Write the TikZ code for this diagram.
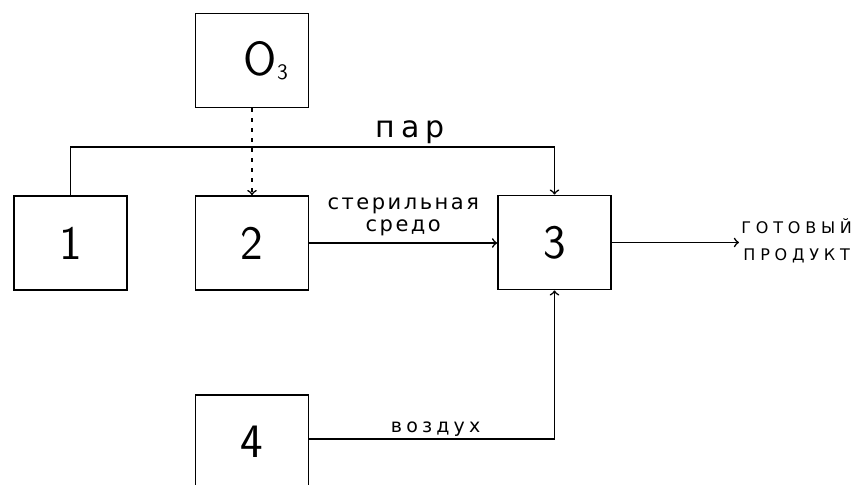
\documentclass[tikz,border=0pt]{standalone}
\usepackage{fontspec}
\setmainfont{DejaVu Sans}
\usepackage{tikz}
\usetikzlibrary{arrows,positioning,calc}

\begin{document}
\begin{tikzpicture}[
    x=0.5pt, y=-0.5pt,
    unit/.style={rectangle, draw, line width=0.9pt, minimum width=56.5pt,
                 minimum height=47pt, inner sep=0pt,
                 font=\sffamily\fontsize{24}{26}\selectfont},
    lbl/.style={inner sep=1pt, align=center},
    arrow/.style={->, >=to, line width=0.8pt, color=black}
]
\useasboundingbox (0,0) rectangle (859,485);

% Units
\node[unit] (ozone) at (252,60.5) {\hspace*{14pt}O\raisebox{-2pt}{\fontsize{11}{12}\selectfont 3}};
\node[unit] (u1) at (70.5,243) {1};
\node[unit] (u2) at (252,243) {2};
\node[unit] (u3) at (554.5,242.5) {3};
\node[unit] (u4) at (252,442) {4};

% Product
\node[lbl, anchor=west, font=\fontsize{8}{13.5}\selectfont\addfontfeatures{LetterSpace=30}]
    (prod) at (739,241) {ГОТОВЫЙ\\ПРОДУКТ};

% Connections
\coordinate (steam) at (0,147);
\draw[arrow] (u1.north) |- (steam -| u3.north)
    node[lbl, above, pos=0.851, font=\fontsize{15}{16}\selectfont\addfontfeatures{LetterSpace=20}] (par) {пар}
    -- (u3.north);
\draw[arrow, dash pattern=on 2pt off 3pt] (ozone) -- (u2);
\draw[arrow] (u2.east) -- (u2.east -| u3.west)
    node[lbl, above, midway, yshift=2pt, font=\fontsize{10.5}{11}\selectfont\addfontfeatures{LetterSpace=12}] (sred) {стерильная\\средо};
\draw[arrow] (u3.east) -- (u3.east -| prod.west);
\coordinate (air) at (554.5,439);
\draw[arrow] (u4.east |- air) -- (air)
    node[lbl, above, pos=0.515, font=\fontsize{9.5}{10}\selectfont\addfontfeatures{LetterSpace=22}] (vozd) {воздух}
    -- (u3.south);

\end{tikzpicture}
\end{document}
